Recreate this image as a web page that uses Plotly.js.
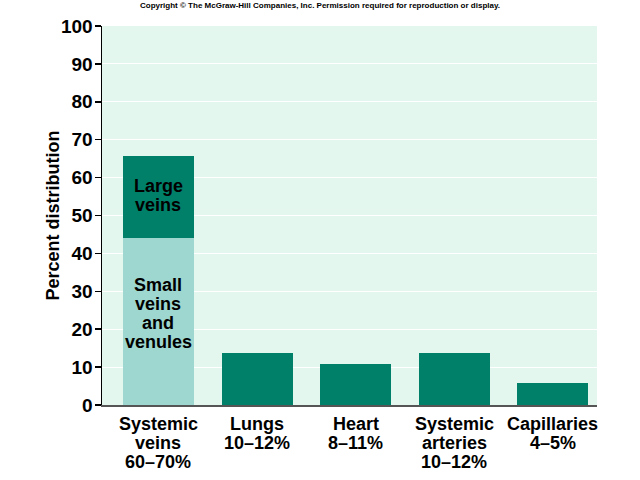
<!DOCTYPE html>
<html>
<head>
<meta charset="utf-8">
<script src="https://cdn.plot.ly/plotly-3.0.1.min.js"></script>
<style>html,body{margin:0;padding:0;background:#fff;}#chart{width:640px;height:480px;}</style>
</head>
<body>
<div id="chart"></div>
<script>
var categories = ["Systemic veins", "Lungs", "Heart", "Systemic arteries", "Capillaries"];
var tickLabels = ["Systemic<br>veins<br>60–70%", "Lungs<br>10–12%", "Heart<br>8–11%", "Systemic<br>arteries<br>10–12%", "Capillaries<br>4–5%"];
var smallVeins = [44, null, null, null, null];
var upperValues = [21.6, 13.7, 10.8, 13.7, 5.8];
var smallLabel = "Small<br>veins<br>and<br>venules";
var largeLabel = "Large<br>veins";
var yTicks = [0, 10, 20, 30, 40, 50, 60, 70, 80, 90, 100];

var FONT = "Liberation Sans, Arial, Helvetica, sans-serif";
var dark = "#007f69";
var light = "#9dd7cf";
var LINE = 19;

var traces = [
  {type: "bar", x: categories, y: smallVeins, marker: {color: light}, width: 0.72, hoverinfo: "skip"},
  {type: "bar", x: categories, y: upperValues, marker: {color: dark}, width: 0.72, hoverinfo: "skip"}
];

var annotations = [];
function txtFont(size) { return {family: FONT, size: size, color: "#000", weight: "bold"}; }

// stacked multi-line label centred on a data point with tight line spacing
function addBlock(label, xv, yv, extraShift) {
  var lines = label.split("<br>");
  var n = lines.length;
  lines.forEach(function (ln, i) {
    annotations.push({x: xv, y: yv, xref: "x", yref: "y", text: ln, showarrow: false,
      xanchor: "center", yanchor: "middle", yshift: ((n - 1) / 2 - i) * LINE + extraShift, font: txtFont(18)});
  });
}
addBlock(smallLabel, categories[0], smallVeins[0] / 2, 8);
addBlock(largeLabel, categories[0], smallVeins[0] + upperValues[0] / 2, 2);

// category labels below the axis
tickLabels.forEach(function (lab, c) {
  lab.split("<br>").forEach(function (ln, i) {
    annotations.push({x: categories[c], y: 0, xref: "x", yref: "paper", text: ln, showarrow: false,
      xanchor: "center", yanchor: "middle", yshift: -(19 + LINE * i), font: txtFont(18)});
  });
});

// y-axis title
annotations.push({x: 0, y: 0.5, xref: "paper", yref: "paper", xanchor: "center", yanchor: "middle",
  xshift: -50, text: "Percent distribution", textangle: -90, showarrow: false, font: txtFont(18)});

// copyright line
annotations.push({x: 0.44, y: 1.0, xref: "paper", yref: "paper", xanchor: "center", yanchor: "top", yshift: 27,
  text: "Copyright © The McGraw-Hill Companies, Inc. Permission required for reproduction or display.",
  showarrow: false, font: txtFont(8)});

var layout = {
  width: 640, height: 480,
  margin: {l: 102, r: 43, t: 26, b: 75},
  paper_bgcolor: "#ffffff",
  plot_bgcolor: "#e3f7ee",
  barmode: "stack",
  showlegend: false,
  font: {family: FONT, color: "#000"},
  xaxis: {
    type: "category",
    categoryarray: categories,
    range: [-0.573, 4.448],
    showgrid: false,
    showticklabels: false,
    showline: true, linecolor: "#555555", linewidth: 2,
    ticks: "",
    fixedrange: true
  },
  yaxis: {
    range: [0, 100],
    tickvals: yTicks,
    ticktext: yTicks.map(String),
    showgrid: true, gridcolor: "#ffffff", gridwidth: 1,
    zeroline: false,
    showline: true, linecolor: "#000000", linewidth: 1.5,
    ticks: "outside", ticklen: 6, tickcolor: "#000", tickwidth: 1.5,
    ticklabelstandoff: -2,
    tickfont: {family: FONT, size: 19, color: "#000", weight: "bold"},
    fixedrange: true
  },
  annotations: annotations
};

Plotly.newPlot("chart", traces, layout, {displayModeBar: false, staticPlot: true});
</script>
</body>
</html>
